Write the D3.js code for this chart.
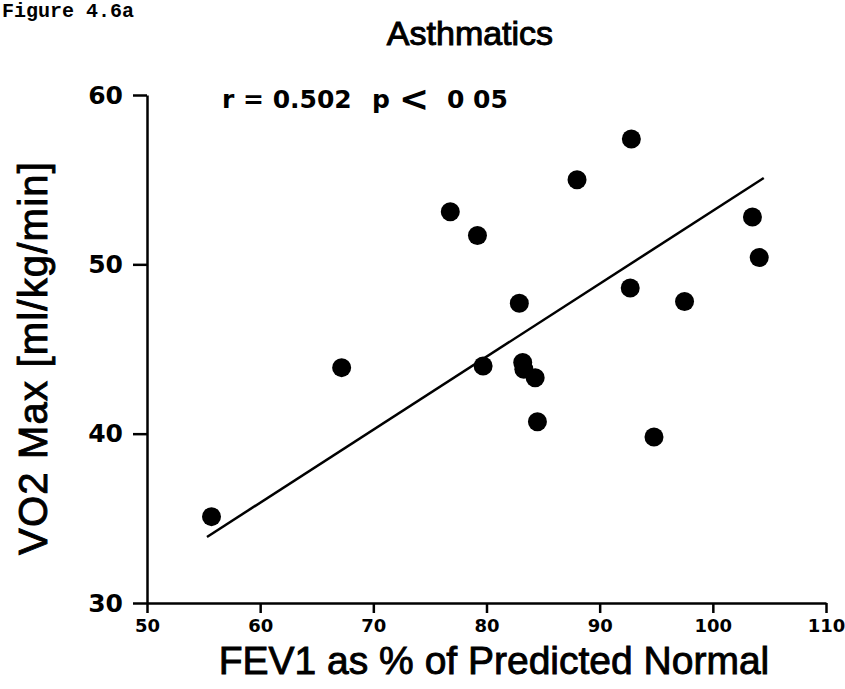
<!DOCTYPE html>
<html>
<head>
<meta charset="utf-8">
<script src="https://cdn.jsdelivr.net/npm/d3@7"></script>
<style>
  body { margin: 0; background: #fff; }
  svg { display: block; }
  .axis path, .axis line { stroke: #000; stroke-width: 2.5; }
  .axis text { fill: #000; font-family: "DejaVu Sans", sans-serif; font-weight: bold; }
</style>
</head>
<body>
<div id="viz"></div>
<script>
// FEV1 (% predicted) vs VO2 max, asthmatics
const fev1 = [55.7, 67.2, 76.8, 79.2, 79.7, 82.9, 83.2, 83.3, 84.3, 84.5, 88.0, 92.8, 92.7, 94.8, 97.5, 103.5, 104.1]
const vo2  = [35.1, 43.9, 53.1, 51.7, 44.0, 47.7, 44.2, 43.8, 43.3, 40.7, 55.0, 57.4, 48.6, 39.8, 47.8, 52.8, 50.4]

// regression line ends
const fitX = [55.3, 104.5]
const fitY = [33.9, 55.1]

const xTicks = [50, 60, 70, 80, 90, 100, 110]
const yTicks = [30, 40, 50, 60]

const width = 845
const height = 689

let svg = d3.select('#viz')
  .append('svg')
    .attr('width', width)
    .attr('height', height)

let x = d3.scaleLinear().domain([50, 110]).range([147, 826])
let y = d3.scaleLinear().domain([30, 60]).range([603, 95])

// figure caption at top left
svg.append('text')
  .attr('x', 2)
  .attr('y', 17)
  .attr('font-family', '"Liberation Mono", monospace')
  .attr('font-weight', 'bold')
  .attr('font-size', 20)
  .text('Figure 4.6a')

svg.append('text')
  .attr('x', 470)
  .attr('y', 45)
  .attr('text-anchor', 'middle')
  .attr('font-family', '"Liberation Sans", Arial, sans-serif')
  .attr('font-size', 34)
  .attr('stroke', '#000')
  .attr('stroke-width', 1)
  .text('Asthmatics')

// axes
let xAxis = svg.append('g')
  .attr('class', 'axis')
  .attr('transform', 'translate(0,' + y(30) + ')')
  .call(d3.axisBottom(x).tickValues(xTicks).tickSize(10).tickSizeOuter(0).tickPadding(6))
xAxis.selectAll('text').attr('font-size', 18)

let yAxis = svg.append('g')
  .attr('class', 'axis')
  .attr('transform', 'translate(' + x(50) + ',0)')
  .call(d3.axisLeft(y).tickValues(yTicks).tickSize(14).tickSizeOuter(0).tickPadding(10))
yAxis.selectAll('text').attr('font-size', 25)

// axis titles
svg.append('text')
  .attr('x', 494)
  .attr('y', 674)
  .attr('text-anchor', 'middle')
  .attr('font-family', '"Liberation Sans", Arial, sans-serif')
  .attr('font-size', 39)
  .attr('stroke', '#000')
  .attr('stroke-width', 0.9)
  .text('FEV1 as % of Predicted Normal')

svg.append('text')
  .attr('transform', 'translate(47,358) rotate(-90)')
  .attr('text-anchor', 'middle')
  .attr('font-family', '"Liberation Sans", Arial, sans-serif')
  .attr('font-size', 40)
  .attr('letter-spacing', 1.2)
  .attr('stroke', '#000')
  .attr('stroke-width', 0.9)
  .text('VO2 Max [ml/kg/min]')

// stats annotation
const notePieces = ['r = 0.502', 'p', '<', '0', '05']
const noteX = [222, 372, 399, 447, 473]
const noteSize = [25, 25, 36, 25, 25]
let note = svg.append('g')
  .attr('font-family', '"DejaVu Sans", sans-serif')
  .attr('font-weight', 'bold')
note.selectAll('text')
  .data(notePieces)
  .join('text')
    .attr('x', (d, i) => noteX[i])
    .attr('y', (d, i) => i == 2 ? 111 : 108)
    .attr('font-size', (d, i) => noteSize[i])
    .text(d => d)

// fitted line
svg.append('line')
  .attr('x1', x(fitX[0])).attr('y1', y(fitY[0]))
  .attr('x2', x(fitX[1])).attr('y2', y(fitY[1]))
  .attr('stroke', '#000')
  .attr('stroke-width', 2.5)

// points
svg.append('g')
  .selectAll('circle')
  .data(fev1)
  .join('circle')
    .attr('cx', d => x(d))
    .attr('cy', (d, i) => y(vo2[i]))
    .attr('r', 9.5)
    .attr('fill', '#000')
</script>
</body>
</html>
